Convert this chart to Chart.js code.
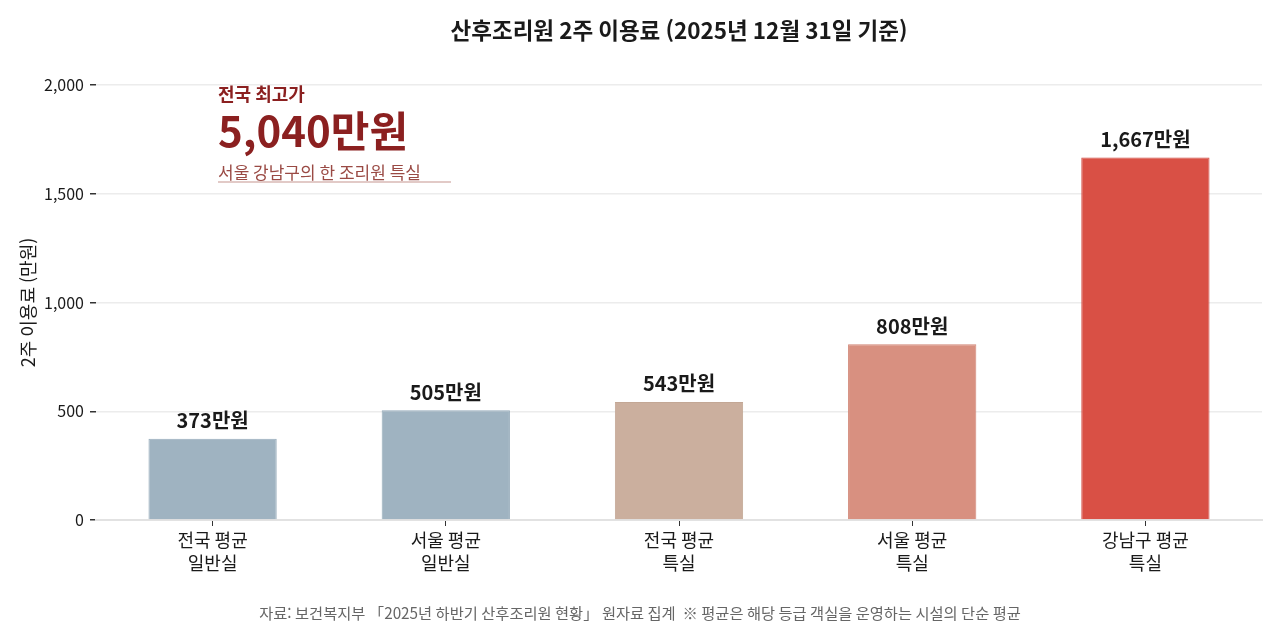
<!DOCTYPE html>
<html lang="ko">
<head>
<meta charset="utf-8">
<title>산후조리원 2주 이용료</title>
<script src="https://cdn.jsdelivr.net/npm/chart.js@4.4.1/dist/chart.umd.min.js"></script>
<style>
  html, body { margin: 0; padding: 0; background: #fff; }
  #wrap { width: 1280px; height: 628px; }
</style>
</head>
<body>
<div id="wrap"><canvas id="grafico-tarifas"></canvas></div>
<script>
// datos del gráfico
const categorias = [
    ['전국 평균', '일반실'],
    ['서울 평균', '일반실'],
    ['전국 평균', '특실'],
    ['서울 평균', '특실'],
    ['강남구 평균', '특실']
];
const tarifas = [373, 505, 543, 808, 1667];
const coloresBarra = ['#9fb3c1', '#9fb3c1', '#cbaf9e', '#d89080', '#d95045'];
const coloresBorde = ['#96abba', '#96abba', '#c3a795', '#d18676', '#d04840'];
const ticksY = [0, 500, 1000, 1500, 2000];

const titulo = '산후조리원 2주 이용료 (2025년 12월 31일 기준)';
const fuenteNota = '자료: 보건복지부 「2025년 하반기 산후조리원 현황」 원자료 집계  ※ 평균은 해당 등급 객실을 운영하는 시설의 단순 평균';

const fuente = "'Noto Sans CJK KR', 'Noto Sans', sans-serif";

// título, etiquetas de valor, anotación y nota de fuente
const pluginEtiquetas = {
    id: 'etiquetas',
    afterDatasetsDraw(chart) {
        const ctx = chart.ctx;
        const area = chart.chartArea;
        const meta = chart.getDatasetMeta(0);
        ctx.save();

        // título centrado sobre el área del gráfico
        ctx.font = 'bold 22.5px ' + fuente;
        ctx.fillStyle = '#1a1a1a';
        ctx.textAlign = 'center';
        ctx.textBaseline = 'middle';
        ctx.fillText(titulo, (area.left + area.right) / 2, 30);

        // etiquetas encima de cada barra
        ctx.font = 'bold 20px ' + fuente;
        ctx.textBaseline = 'bottom';
        meta.data.forEach(function (barra, i) {
            ctx.fillText(tarifas[i].toLocaleString('en-US') + '만원', barra.x, barra.y - 8);
        });

        // nota de fuente
        ctx.font = '15.3px ' + fuente;
        ctx.fillStyle = '#666';
        ctx.textBaseline = 'middle';
        ctx.fillText(fuenteNota, chart.width / 2, 613);

        // anotación "전국 최고가"
        const x0 = area.left + 122;
        ctx.textAlign = 'left';
        ctx.textBaseline = 'alphabetic';
        ctx.fillStyle = '#8b2020';
        ctx.font = 'bold 18px ' + fuente;
        ctx.fillText('전국 최고가', x0, 101);
        ctx.font = 'bold 42px ' + fuente;
        ctx.fillText('5,040만원', x0, 147);
        ctx.fillStyle = '#9a4a44';
        ctx.font = '17px ' + fuente;
        ctx.fillText('서울 강남구의 한 조리원 특실', x0, 179);
        ctx.strokeStyle = '#d8b8b4';
        ctx.lineWidth = 1.5;
        ctx.beginPath();
        ctx.moveTo(x0, 182);
        ctx.lineTo(x0 + 233, 182);
        ctx.stroke();
        ctx.restore();
    }
};

const ctxBar = document.getElementById('grafico-tarifas').getContext('2d');
const graficoTarifas = new Chart(ctxBar, {
    type: 'bar',
    data: {
        labels: categorias,
        datasets: [{
            data: tarifas,
            backgroundColor: coloresBarra,
            borderColor: coloresBorde,
            borderWidth: 1,
            categoryPercentage: 1,
            barPercentage: 0.55
        }]
    },
    options: {
        responsive: true,
        maintainAspectRatio: false,
        animation: false,
        devicePixelRatio: 1,
        layout: { padding: { left: 0, right: 18, top: 85, bottom: 38 } },
        plugins: {
            legend: { display: false },
            tooltip: { enabled: false },
            title: { display: false }
        },
        scales: {
            x: {
                afterFit(scale) {
                    scale.height = 70;
                },
                grid: {
                    offset: false,
                    drawOnChartArea: false,
                    drawTicks: true,
                    tickLength: 6,
                    tickColor: '#333'
                },
                border: { display: true, color: '#e2e2e2', width: 2 },
                ticks: {
                    color: '#1a1a1a',
                    font: { family: fuente, size: 18, lineHeight: 1.3 },
                    padding: 2
                }
            },
            y: {
                min: 0,
                max: 2000,
                afterBuildTicks(scale) {
                    scale.ticks = ticksY.map(function (v) { return { value: v }; });
                },
                afterFit(scale) {
                    scale.width = 96;
                },
                grid: {
                    color: '#ececec',
                    lineWidth: 1.5,
                    drawTicks: true,
                    tickLength: 6,
                    tickColor: '#333'
                },
                border: { display: false },
                ticks: {
                    color: '#1a1a1a',
                    font: { family: fuente, size: 16 },
                    padding: 6,
                    callback: function (v) { return v.toLocaleString('en-US'); }
                },
                title: {
                    display: true,
                    text: '2주 이용료 (만원)',
                    color: '#1a1a1a',
                    font: { family: fuente, size: 18 },
                    padding: { top: 17, bottom: 4 }
                }
            }
        }
    },
    plugins: [pluginEtiquetas]
});
</script>
</body>
</html>
